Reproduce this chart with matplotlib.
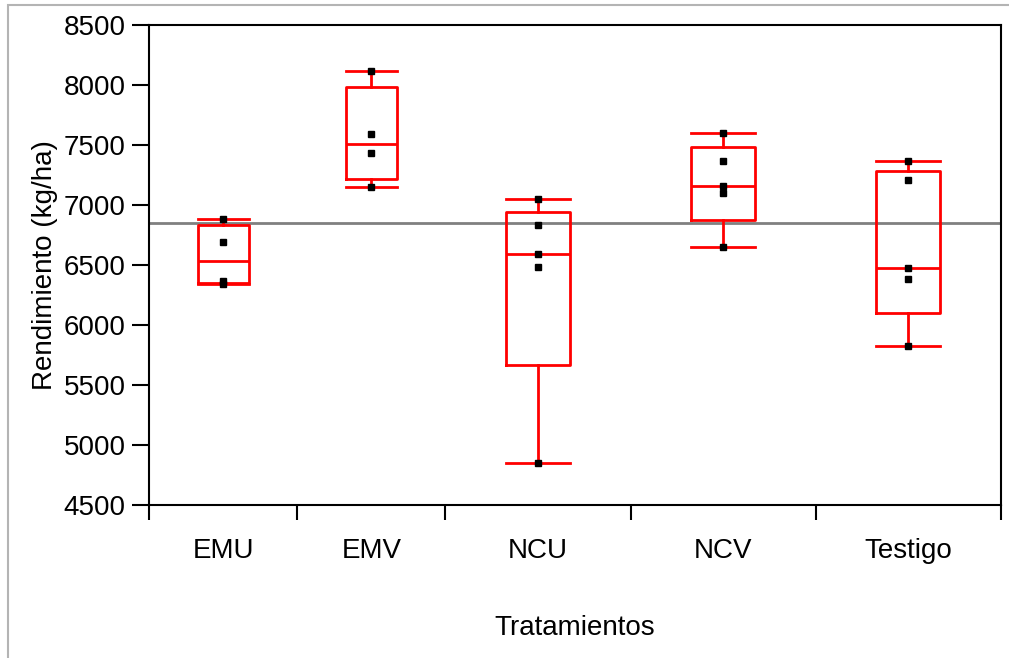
import numpy as np
import matplotlib
matplotlib.use("Agg")
import matplotlib.pyplot as plt
from matplotlib.patches import Rectangle

plt.rcParams['font.family'] = ['Liberation Sans', 'DejaVu Sans']

# Rendimiento (kg/ha) por tratamiento
categories = ['EMU', 'EMV', 'NCU', 'NCV', 'Testigo']
emu = [6880, 6690, 6370, 6340]
emv = [8120, 7590, 7430, 7150]
ncu = [7050, 6830, 6590, 6480, 4850]
ncv = [7600, 7365, 7160, 7100, 6650]
testigo = [7365, 7210, 6475, 6380, 5825]
groups = [emu, emv, ncu, ncv, testigo]

y_ticks = [4500, 5000, 5500, 6000, 6500, 7000, 7500, 8000, 8500]


def jmp_stats(values, label):
    v = np.sort(np.asarray(values, dtype=float))
    q1, med, q3 = np.percentile(v, [25, 50, 75], method='weibull')
    iqr = q3 - q1
    lo = v[v >= q1 - 1.5 * iqr].min()
    hi = v[v <= q3 + 1.5 * iqr].max()
    return dict(label=label, med=med, q1=q1, q3=q3, whislo=lo, whishi=hi, fliers=[])


# JMP style: each group gets a slot proportional to its sample size
sizes = np.array([len(g) for g in groups])
edges = np.concatenate([[0], np.cumsum(sizes)])
centers = (edges[:-1] + edges[1:]) / 2
widths = sizes * 0.345

fig = plt.figure(figsize=(10.09, 6.58), dpi=100)
ax = fig.add_axes([149 / 1009, 1 - 505 / 658, 852 / 1009, 480 / 658])

# light grey frame around the whole picture (top and left visible)
fig.patches.append(Rectangle((8 / 1009, -0.1), 1.2, 1.1 - 5 / 658,
                             transform=fig.transFigure, fill=False,
                             edgecolor='#b4b4b4', lw=1.5))

grand_mean = np.mean(np.concatenate(groups))
ax.axhline(grand_mean, color='#808080', lw=2, zorder=1)

stats = [jmp_stats(g, c) for g, c in zip(groups, categories)]
red = dict(color='#ff0000', lw=2)
ax.bxp(stats, positions=centers, widths=widths, showfliers=False,
       boxprops=red, whiskerprops=red, capprops=red, medianprops=red,
       capwidths=widths, manage_ticks=False, zorder=2)

for c, g in zip(centers, groups):
    ax.plot([c] * len(g), g, ls='none', marker='s', ms=4.5, color='black', zorder=3)

ax.set_xlim(edges[0], edges[-1])
ax.set_ylim(4500, 8500)
ax.set_yticks(y_ticks)
ax.set_xticks(centers)
ax.set_xticklabels(categories)
ax.set_xticks(edges, minor=True)
ax.tick_params(axis='x', which='major', length=0, pad=24, labelsize=20)
ax.tick_params(axis='x', which='minor', length=11, width=1.5, direction='out')
ax.tick_params(axis='y', length=12, width=1.5, pad=5, labelsize=20)

for s in ax.spines.values():
    s.set_linewidth(1.5)

ax.set_ylabel('Rendimiento (kg/ha)', fontsize=20)
ax.yaxis.set_label_coords(-0.107, 0.5)
ax.set_xlabel('Tratamientos', fontsize=20, va='center')
ax.xaxis.set_label_coords(0.5, -0.257)

fig.savefig('out.png', dpi=100)
